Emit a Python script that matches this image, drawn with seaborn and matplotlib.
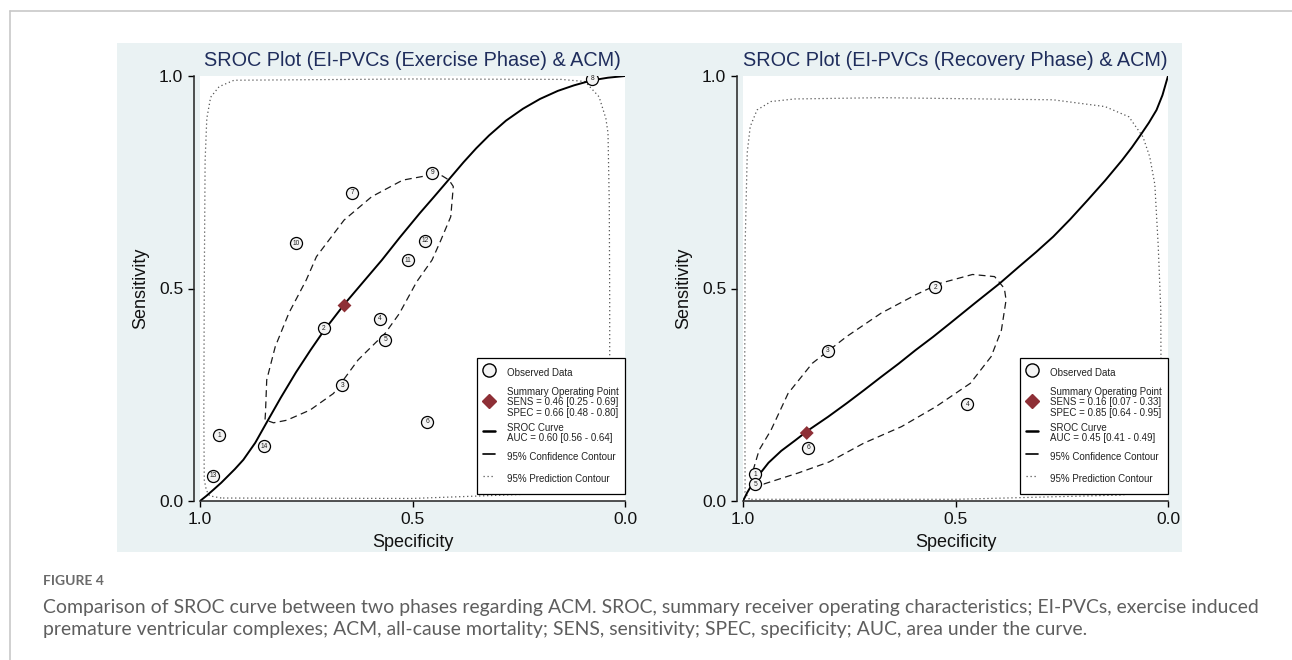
import matplotlib
matplotlib.use("Agg")
import matplotlib.pyplot as plt
from matplotlib.lines import Line2D
from matplotlib.patches import Rectangle
import pandas as pd
import seaborn as sns

sns.set_style("ticks")
plt.rcParams['font.family'] = ['Liberation Sans', 'DejaVu Sans']

# ---------------- data (spec, sens) ----------------
# exercise phase
ex_ids = [1, 2, 3, 4, 5, 6, 7, 8, 9, 10, 11, 12, 13, 14]
ex_spec = [0.955, 0.709, 0.665, 0.576, 0.564, 0.465, 0.642, 0.077, 0.453, 0.774, 0.510, 0.470, 0.970, 0.849]
ex_sens = [0.155, 0.406, 0.272, 0.429, 0.379, 0.187, 0.725, 0.994, 0.772, 0.606, 0.567, 0.612, 0.060, 0.129]
ex_summary = (0.66, 0.46)

ex_sroc_spec = [1.0, 0.985, 0.969, 0.95, 0.937, 0.918, 0.898, 0.87, 0.843, 0.81, 0.774, 0.74,
                0.709, 0.66, 0.612, 0.572, 0.53, 0.483, 0.45, 0.414, 0.38, 0.35, 0.32, 0.28,
                0.24, 0.20, 0.158, 0.12, 0.077, 0.04, 0.0]
ex_sroc_sens = [0.0, 0.012, 0.026, 0.043, 0.056, 0.075, 0.097, 0.137, 0.185, 0.243, 0.303, 0.355,
                0.400, 0.4635, 0.52, 0.567, 0.62, 0.677, 0.715, 0.757, 0.797, 0.83, 0.86, 0.895,
                0.923, 0.946, 0.965, 0.978, 0.99, 0.996, 1.0]

ex_conf_spec = [0.458, 0.43, 0.414, 0.404, 0.41, 0.434, 0.454, 0.49, 0.531, 0.564, 0.628, 0.686,
                0.741, 0.796, 0.827, 0.847, 0.846, 0.843, 0.823, 0.791, 0.75, 0.726, 0.661,
                0.596, 0.523, 0.458]
ex_conf_sens = [0.767, 0.765, 0.755, 0.74, 0.669, 0.612, 0.567, 0.516, 0.441, 0.395, 0.332, 0.253,
                0.214, 0.19, 0.184, 0.191, 0.206, 0.285, 0.363, 0.442, 0.52, 0.575, 0.661,
                0.716, 0.755, 0.767]

ex_pred_spec = [0.95, 0.977, 0.985, 0.99, 0.991, 0.99, 0.988, 0.984, 0.975, 0.955, 0.92, 0.5,
                0.15, 0.094, 0.061, 0.045, 0.04, 0.037, 0.036, 0.036, 0.037, 0.045, 0.07,
                0.175, 0.5, 0.95]
ex_pred_sens = [0.007, 0.012, 0.025, 0.05, 0.2, 0.5, 0.8, 0.9, 0.95, 0.975, 0.99, 0.993,
                0.992, 0.987, 0.951, 0.9, 0.866, 0.7, 0.47, 0.3, 0.12, 0.05, 0.025,
                0.018, 0.006, 0.007]

# recovery phase
rc_ids = [1, 2, 3, 4, 5, 6]
rc_spec = [0.971, 0.548, 0.801, 0.472, 0.971, 0.847]
rc_sens = [0.063, 0.503, 0.354, 0.228, 0.040, 0.125]
rc_summary = (0.85, 0.16)

rc_sroc_spec = [1.0, 0.995, 0.99, 0.978, 0.962, 0.94, 0.91, 0.878, 0.847, 0.80, 0.756, 0.715,
                0.675, 0.634, 0.594, 0.553, 0.513, 0.455, 0.396, 0.351, 0.31, 0.27, 0.23,
                0.189, 0.148, 0.108, 0.085, 0.064, 0.045, 0.027, 0.013, 0.0]
rc_sroc_sens = [0.0, 0.01, 0.02, 0.04, 0.062, 0.09, 0.118, 0.142, 0.166, 0.198, 0.23, 0.261,
                0.292, 0.323, 0.355, 0.386, 0.418, 0.465, 0.512, 0.551, 0.586, 0.622, 0.663,
                0.708, 0.754, 0.802, 0.832, 0.862, 0.89, 0.92, 0.955, 1.0]

rc_conf_spec = [0.972, 0.976, 0.962, 0.934, 0.894, 0.837, 0.756, 0.675, 0.594, 0.537, 0.46,
                0.408, 0.385, 0.381, 0.392, 0.416, 0.465, 0.546, 0.627, 0.716, 0.797, 0.87,
                0.951, 0.972]
rc_conf_sens = [0.045, 0.073, 0.12, 0.167, 0.253, 0.324, 0.387, 0.442, 0.485, 0.512, 0.533,
                0.528, 0.50, 0.473, 0.402, 0.34, 0.277, 0.222, 0.175, 0.136, 0.092, 0.066,
                0.04, 0.045]

rc_pred_spec = [0.985, 0.995, 0.996, 0.995, 0.99, 0.983, 0.967, 0.934, 0.878, 0.675, 0.27,
                0.148, 0.092, 0.059, 0.043, 0.031, 0.023, 0.017, 0.016, 0.02, 0.04, 0.073,
                0.11, 0.5, 0.985]
rc_pred_sens = [0.004, 0.02, 0.3, 0.6, 0.82, 0.881, 0.92, 0.94, 0.946, 0.949, 0.944,
                0.928, 0.904, 0.857, 0.81, 0.745, 0.6, 0.45, 0.2, 0.07, 0.03, 0.019,
                0.014, 0.004, 0.004]

titles = ['SROC Plot (EI-PVCs (Exercise Phase) & ACM)',
          'SROC Plot (EI-PVCs (Recovery Phase) & ACM)']
summary_texts = ['Summary Operating Point\nSENS = 0.46 [0.25 - 0.69]\nSPEC = 0.66 [0.48 - 0.80]',
                 'Summary Operating Point\nSENS = 0.16 [0.07 - 0.33]\nSPEC = 0.85 [0.64 - 0.95]']
auc_texts = ['SROC Curve\nAUC = 0.60 [0.56 - 0.64]',
             'SROC Curve\nAUC = 0.45 [0.41 - 0.49]']

caption_head = 'FIGURE 4'
caption_1 = ('Comparison of SROC curve between two phases regarding ACM. SROC, summary receiver '
             'operating characteristics; EI-PVCs, exercise induced')
caption_2 = ('premature ventricular complexes; ACM, all-cause mortality; SENS, sensitivity; '
             'SPEC, specificity; AUC, area under the curve.')

# ---------------- style ----------------
W, H = 1292, 660
BG = '#EAF2F3'
NAVY = '#1F2D5C'
CRAN = '#8E2F36'
DOT = (0, (1, 2.2))


def panel(ax, ids, spec, sens, summ, sroc_x, sroc_y, conf_x, conf_y, pred_x, pred_y,
          title, summ_txt, auc_txt):
    ax.set_facecolor('white')
    pred = pd.DataFrame({'spec': pred_x, 'sens': pred_y})
    conf = pd.DataFrame({'spec': conf_x, 'sens': conf_y})
    sroc = pd.DataFrame({'spec': sroc_x, 'sens': sroc_y})
    obs = pd.DataFrame({'id': ids, 'spec': spec, 'sens': sens})

    sns.lineplot(data=pred, x='spec', y='sens', sort=False, estimator=None, ax=ax,
                 color='#555555', lw=0.9, linestyle=DOT)
    sns.lineplot(data=conf, x='spec', y='sens', sort=False, estimator=None, ax=ax,
                 color='#1a1a1a', lw=0.9, dashes=False, linestyle=(0, (5.5, 3.5)))
    sns.lineplot(data=sroc, x='spec', y='sens', sort=False, estimator=None, ax=ax,
                 color='black', lw=1.4)
    sns.scatterplot(data=obs, x='spec', y='sens', ax=ax, s=75, color='#f4f4f4',
                    edgecolor='black', linewidth=0.9, zorder=4)
    for _, r in obs.iterrows():
        ax.text(r['spec'], r['sens'], str(int(r['id'])), ha='center', va='center',
                fontsize=4.8, color='#222222', zorder=5)
    sns.scatterplot(x=[summ[0]], y=[summ[1]], ax=ax, marker='D', s=50, color=CRAN,
                    edgecolor='none', zorder=6)

    ax.set_xlim(1, 0)
    ax.set_ylim(0, 1)
    ax.set_xticks([1.0, 0.5, 0.0])
    ax.set_yticks([0.0, 0.5, 1.0])
    ax.set_xticklabels(['1.0', '0.5', '0.0'])
    ax.set_yticklabels(['0.0', '0.5', '1.0'])
    ax.tick_params(direction='out', length=4.3, width=1, color='black',
                   labelsize=12.5, pad=3.5, labelcolor='#111111')
    sns.despine(ax=ax, offset={'left': 4.3, 'bottom': 0})
    for s in ('left', 'bottom'):
        ax.spines[s].set_linewidth(1.1)
        ax.spines[s].set_color('#222222')
    ax.set_xlabel('Specificity', fontsize=13, color='#111111', labelpad=5.5)
    ax.set_ylabel('Sensitivity', fontsize=13, color='#111111', labelpad=7)
    ax.set_title(title, fontsize=14.3, color=NAVY, pad=7)

    handles = [
        Line2D([], [], marker='o', ls='none', mfc='#f4f4f4', mec='black', ms=9.5, mew=1),
        Line2D([], [], marker='D', ls='none', color=CRAN, ms=7.5),
        Line2D([], [], color='black', lw=1.8),
        Line2D([], [], color='black', lw=1.2),
        Line2D([], [], color='#555555', lw=0.9, ls=DOT),
    ]
    labels = ['Observed Data', summ_txt, auc_txt,
              '95% Confidence Contour', '95% Prediction Contour']
    leg = ax.legend(handles, labels, loc='lower right', bbox_to_anchor=(1.0, 0.0165),
                    borderaxespad=0, fontsize=7.0, fancybox=False, framealpha=1,
                    borderpad=0.65, handlelength=1.2, handleheight=2.35, handletextpad=1.25,
                    labelspacing=0.5, edgecolor='black')
    leg.get_frame().set_linewidth(0.9)
    for t in leg.get_texts():
        t.set_linespacing(1.08)
        t.set_color('#222222')
    leg.set_zorder(10)


fig = plt.figure(figsize=(W / 100, H / 100), dpi=100)
fig.add_artist(Rectangle((117 / W, 1 - 552 / H), 1065 / W, 509 / H, transform=fig.transFigure,
                         facecolor=BG, edgecolor='none', zorder=-1))
fig.add_artist(Line2D([10 / W, 1], [1 - 11 / H, 1 - 11 / H], transform=fig.transFigure,
                      color='#c8c8c8', lw=1.2))
fig.add_artist(Line2D([10 / W, 10 / W], [0, 1 - 11 / H], transform=fig.transFigure,
                      color='#c8c8c8', lw=1.2))

ax1 = fig.add_axes([200 / W, 1 - 501 / H, 425 / W, 425 / H])
ax2 = fig.add_axes([743 / W, 1 - 501 / H, 425 / W, 425 / H])

panel(ax1, ex_ids, ex_spec, ex_sens, ex_summary, ex_sroc_spec, ex_sroc_sens,
      ex_conf_spec, ex_conf_sens, ex_pred_spec, ex_pred_sens,
      titles[0], summary_texts[0], auc_texts[0])
panel(ax2, rc_ids, rc_spec, rc_sens, rc_summary, rc_sroc_spec, rc_sroc_sens,
      rc_conf_spec, rc_conf_sens, rc_pred_spec, rc_pred_sens,
      titles[1], summary_texts[1], auc_texts[1])

cap_font = ['Lato', 'DejaVu Sans']
fig.text(43 / W, 1 - 581 / H, caption_head, fontsize=10, fontweight='bold',
         color='#6a6a6a', va='center', ha='left', family=cap_font)
fig.text(43 / W, 1 - 607 / H, caption_1, fontsize=13.95, color='#5e5e5e',
         va='center', ha='left', family=cap_font)
fig.text(43 / W, 1 - 630 / H, caption_2, fontsize=13.95, color='#5e5e5e',
         va='center', ha='left', family=cap_font)

fig.savefig('out.png', dpi=100, facecolor='white')
